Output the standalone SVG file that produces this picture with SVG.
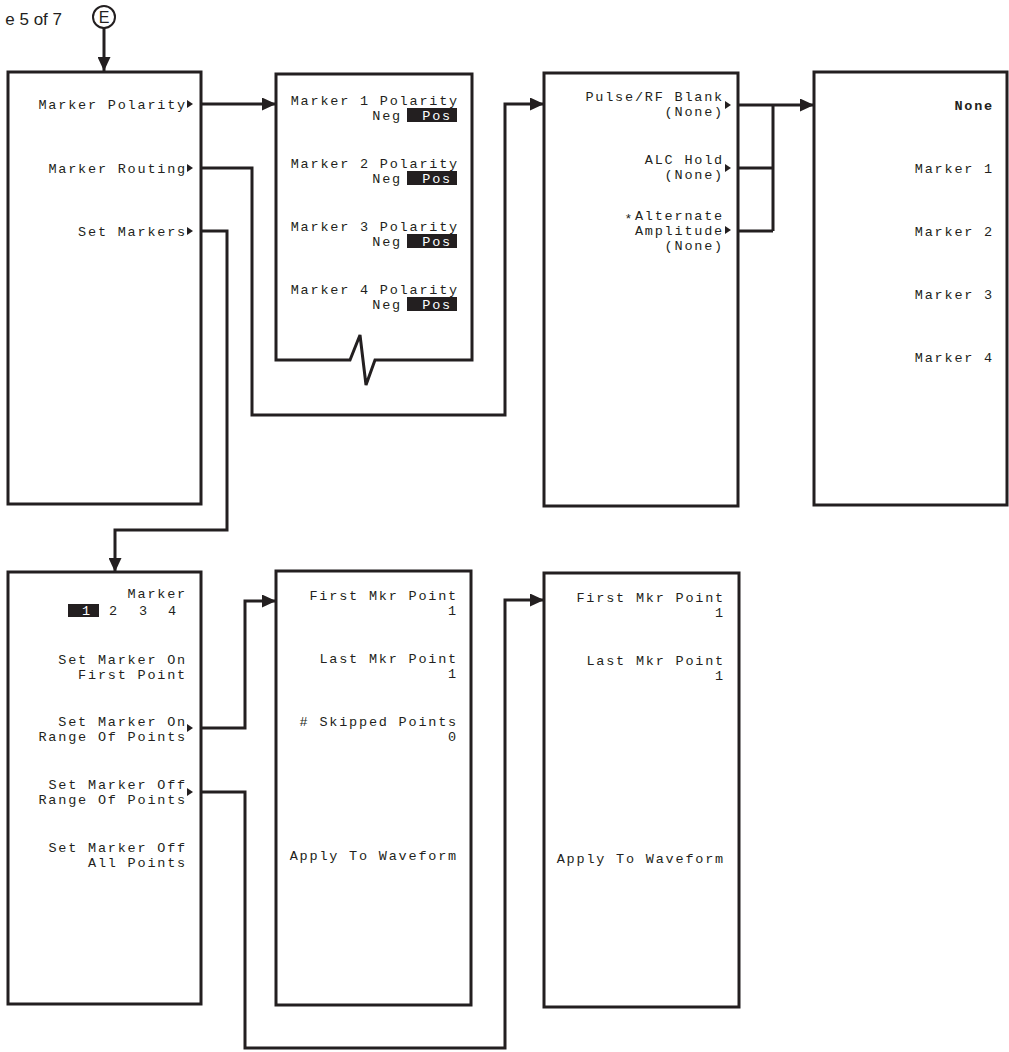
<svg xmlns="http://www.w3.org/2000/svg" width="1009" height="1052" viewBox="0 0 1009 1052">
<style>
.box{fill:#fff;stroke:#231f20;stroke-width:3}
.con{fill:none;stroke:#231f20;stroke-width:3}
.t{font-family:"Liberation Mono","DejaVu Sans Mono",monospace;font-size:13.5px;letter-spacing:1.8px;fill:#231f20;text-anchor:end}
.b{font-weight:bold}
.w{fill:#fff}
.tri{fill:#231f20}
.hl{fill:#231f20}
</style>
<defs>
<marker id="ah" markerUnits="userSpaceOnUse" markerWidth="14" markerHeight="13" refX="14" refY="6.5" orient="auto">
<path d="M0,0 L14,6.5 L0,13 z" fill="#231f20"/>
</marker>
</defs>
<rect width="1009" height="1052" fill="#fff"/>
<text x="62" y="25" style="font-family:'Liberation Sans',Arial,sans-serif;font-size:17px;fill:#231f20;text-anchor:end">e 5 of 7</text>
<g id="pageE">
<circle cx="104" cy="17" r="11" fill="#fff" stroke="#231f20" stroke-width="2"/>
<text x="104" y="23" style="font-family:'Liberation Sans',Arial,sans-serif;font-size:16px;fill:#231f20;text-anchor:middle">E</text>
</g>
<g id="connectors">
<path class="con" d="M104,28 V71" marker-end="url(#ah)"/>
<path class="con" d="M201,104 H276" marker-end="url(#ah)"/>
<path class="con" d="M201,168 H252 V415 H505 V104 H544" marker-end="url(#ah)"/>
<path class="con" d="M201,231 H227 V530 H115 V572" marker-end="url(#ah)"/>
<path class="con" d="M738,105 H814" marker-end="url(#ah)"/>
<path class="con" d="M773,105 V231 M738,168 H773 M738,231 H773"/>
<path class="con" d="M201,728 H245 V601 H276" marker-end="url(#ah)"/>
<path class="con" d="M201,792 H245 V1048 H505 V600 H544" marker-end="url(#ah)"/>
</g>
<g id="menuMarkerUtilities">
<rect class="box" x="8" y="72" width="193" height="432"/>
<text class="t" x="187" y="109">Marker Polarity</text>
<path class="tri" d="M187,100 L193,104 L187,108 z"/>
<text class="t" x="187" y="173">Marker Routing</text>
<path class="tri" d="M187,164 L193,168 L187,172 z"/>
<text class="t" x="187" y="236">Set Markers</text>
<path class="tri" d="M187,227 L193,231 L187,235 z"/>
</g>
<g id="menuMarkerPolarity">
<path class="box" d="M276,74 H472 V360 H375 L366,385 L360,335 L350,360 H276 Z"/>
<text class="t" x="459" y="105">Marker 1 Polarity</text>
<rect class="hl" x="407" y="108" width="50" height="14"/>
<text class="t" x="402" y="120">Neg</text><text class="t w" x="452" y="120">Pos</text>
<text class="t" x="459" y="168">Marker 2 Polarity</text>
<rect class="hl" x="407" y="171" width="50" height="14"/>
<text class="t" x="402" y="183">Neg</text><text class="t w" x="452" y="183">Pos</text>
<text class="t" x="459" y="231">Marker 3 Polarity</text>
<rect class="hl" x="407" y="234" width="50" height="14"/>
<text class="t" x="402" y="246">Neg</text><text class="t w" x="452" y="246">Pos</text>
<text class="t" x="459" y="294">Marker 4 Polarity</text>
<rect class="hl" x="407" y="297" width="50" height="14"/>
<text class="t" x="402" y="309">Neg</text><text class="t w" x="452" y="309">Pos</text>
</g>
<g id="menuMarkerRouting">
<rect class="box" x="544" y="73" width="194" height="433"/>
<text class="t" x="724" y="101">Pulse/RF Blank</text>
<text class="t" x="724" y="116">(None)</text>
<path class="tri" d="M725,101 L731,105 L725,109 z"/>
<text class="t" x="724" y="164">ALC Hold</text>
<text class="t" x="724" y="179">(None)</text>
<path class="tri" d="M725,164 L731,168 L725,172 z"/>
<text class="t" x="724" y="220">Alternate</text>
<text class="t" x="634" y="223" style="font-size:13px">*</text>
<text class="t" x="724" y="235">Amplitude</text>
<text class="t" x="724" y="250">(None)</text>
<path class="tri" d="M725,226 L731,230 L725,234 z"/>
</g>
<g id="menuMarkerSelect">
<rect class="box" x="814" y="72" width="193" height="433"/>
<text class="t b" x="994" y="110">None</text>
<text class="t" x="994" y="173">Marker 1</text>
<text class="t" x="994" y="236">Marker 2</text>
<text class="t" x="994" y="299">Marker 3</text>
<text class="t" x="994" y="362">Marker 4</text>
</g>
<g id="menuSetMarkers">
<rect class="box" x="8" y="572" width="193" height="432"/>
<text class="t" x="187" y="598">Marker</text>
<rect class="hl" x="68" y="604" width="31" height="13"/>
<text class="t w" x="92" y="615">1</text>
<text class="t" x="119" y="615">2</text>
<text class="t" x="149" y="615">3</text>
<text class="t" x="178" y="615">4</text>
<text class="t" x="187" y="664">Set Marker On</text>
<text class="t" x="187" y="679">First Point</text>
<text class="t" x="187" y="726">Set Marker On</text>
<text class="t" x="187" y="741">Range Of Points</text>
<path class="tri" d="M187,724 L193,728 L187,732 z"/>
<text class="t" x="187" y="789">Set Marker Off</text>
<text class="t" x="187" y="804">Range Of Points</text>
<path class="tri" d="M187,788 L193,792 L187,796 z"/>
<text class="t" x="187" y="852">Set Marker Off</text>
<text class="t" x="187" y="867">All Points</text>
</g>
<g id="menuRangeOn">
<rect class="box" x="276" y="571" width="195" height="434"/>
<text class="t" x="458" y="600">First Mkr Point</text>
<text class="t" x="458" y="615">1</text>
<text class="t" x="458" y="663">Last Mkr Point</text>
<text class="t" x="458" y="678">1</text>
<text class="t" x="458" y="726">#&#160;Skipped Points</text>
<text class="t" x="458" y="741">0</text>
<text class="t" x="458" y="860">Apply To Waveform</text>
</g>
<g id="menuRangeOff">
<rect class="box" x="544" y="573" width="195" height="434"/>
<text class="t" x="725" y="602">First Mkr Point</text>
<text class="t" x="725" y="617">1</text>
<text class="t" x="725" y="665">Last Mkr Point</text>
<text class="t" x="725" y="680">1</text>
<text class="t" x="725" y="863">Apply To Waveform</text>
</g>
</svg>
